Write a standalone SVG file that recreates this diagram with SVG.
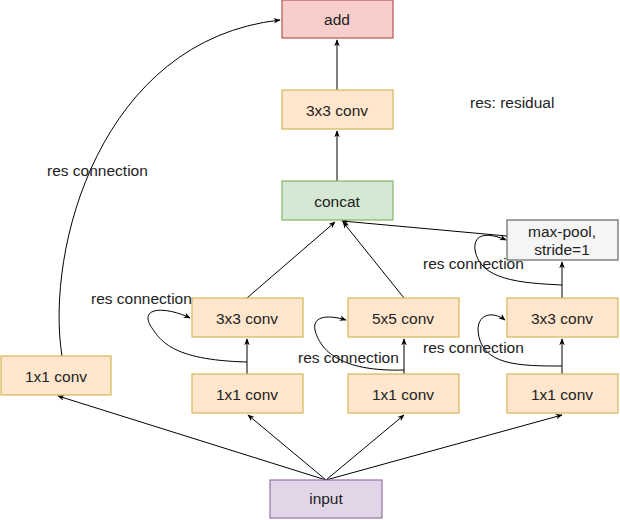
<svg xmlns="http://www.w3.org/2000/svg" width="620" height="520" viewBox="0 0 620 520">
<defs>
<marker id="a" viewBox="0 0 10 10" refX="9" refY="5" markerWidth="7" markerHeight="7" orient="auto"><path d="M0,1 L10,5 L0,9 L3,5 Z" fill="#000"/></marker>
<style>
text{font-family:"Liberation Sans",Arial,sans-serif;font-size:15.5px;fill:#222}
.c{text-anchor:middle}
.o{fill:#ffe6cc;stroke:#d6b656;stroke-width:1.2}
.l{fill:none;stroke:#000;stroke-width:1;marker-end:url(#a)}
</style>
</defs>
<rect width="620" height="520" fill="#fff"/>
<g id="connectors">
<path class="l" d="M337,90 V40"/>
<path class="l" d="M337,181 V131"/>
<path class="l" d="M247,298 L335,222"/>
<path class="l" d="M404,298 L343,222"/>
<path class="l" d="M507,236 L342,221"/>
<path class="l" d="M562,298 V262"/>
<path class="l" d="M247,374 V339"/>
<path class="l" d="M404,374 V339"/>
<path class="l" d="M562,374 V339"/>
<path class="l" d="M326,480 L58,396"/>
<path class="l" d="M326,480 L248,415"/>
<path class="l" d="M326,480 L404,415"/>
<path class="l" d="M326,480 L562,415"/>
<path class="l" d="M62,356 C45,250 100,40 280,20"/>
<path class="l" d="M247,362 C170,360 160,340 150,325 C140,305 170,308 190,318"/>
<path class="l" d="M404,370 C340,372 320,350 315,330 C312,315 330,315 346,320"/>
<path class="l" d="M562,366 C520,366 480,366 478,330 C478,312 495,312 505,320"/>
<path class="l" d="M562,285 C520,283 480,280 475,250 C473,232 490,233 506,240"/>
</g>
<g id="add"><rect x="282" y="0" width="111" height="38" fill="#f8cecc" stroke="#b85450" stroke-width="1.2"/><text class="c" x="337" y="25">add</text></g>
<g id="conv_top"><rect class="o" x="282" y="90" width="111" height="39"/><text class="c" x="337" y="116">3x3 conv</text></g>
<g id="concat"><rect x="282" y="181" width="111" height="39" fill="#d5e8d4" stroke="#82b366" stroke-width="1.2"/><text class="c" x="337" y="207">concat</text></g>
<g id="maxpool"><rect x="507" y="220" width="111" height="40" fill="#f5f5f5" stroke="#666" stroke-width="1.2"/><text class="c" x="562" y="237">max-pool,</text><text class="c" x="562" y="255">stride=1</text></g>
<g id="conv3a"><rect class="o" x="192" y="298" width="111" height="39"/><text class="c" x="247" y="324">3x3 conv</text></g>
<g id="conv5"><rect class="o" x="348" y="298" width="111" height="39"/><text class="c" x="403" y="324">5x5 conv</text></g>
<g id="conv3b"><rect class="o" x="507" y="298" width="111" height="39"/><text class="c" x="562" y="324">3x3 conv</text></g>
<g id="c1a"><rect class="o" x="192" y="374" width="111" height="39"/><text class="c" x="247" y="400">1x1 conv</text></g>
<g id="c1b"><rect class="o" x="348" y="374" width="111" height="39"/><text class="c" x="403" y="400">1x1 conv</text></g>
<g id="c1c"><rect class="o" x="507" y="374" width="111" height="39"/><text class="c" x="562" y="400">1x1 conv</text></g>
<g id="c1left"><rect class="o" x="1" y="356" width="110" height="39"/><text class="c" x="56" y="382">1x1 conv</text></g>
<g id="input"><rect x="270" y="480" width="112" height="38" fill="#e1d5e7" stroke="#9673a6" stroke-width="1.2"/><text class="c" x="326" y="504" font-size="13">input</text></g>
<g id="labels">
<text x="470" y="108">res: residual</text>
<text x="47" y="176">res connection</text>
<text x="91" y="304">res connection</text>
<text x="298" y="363">res connection</text>
<text x="423" y="353">res connection</text>
<text x="423" y="269">res connection</text>
</g>
</svg>
